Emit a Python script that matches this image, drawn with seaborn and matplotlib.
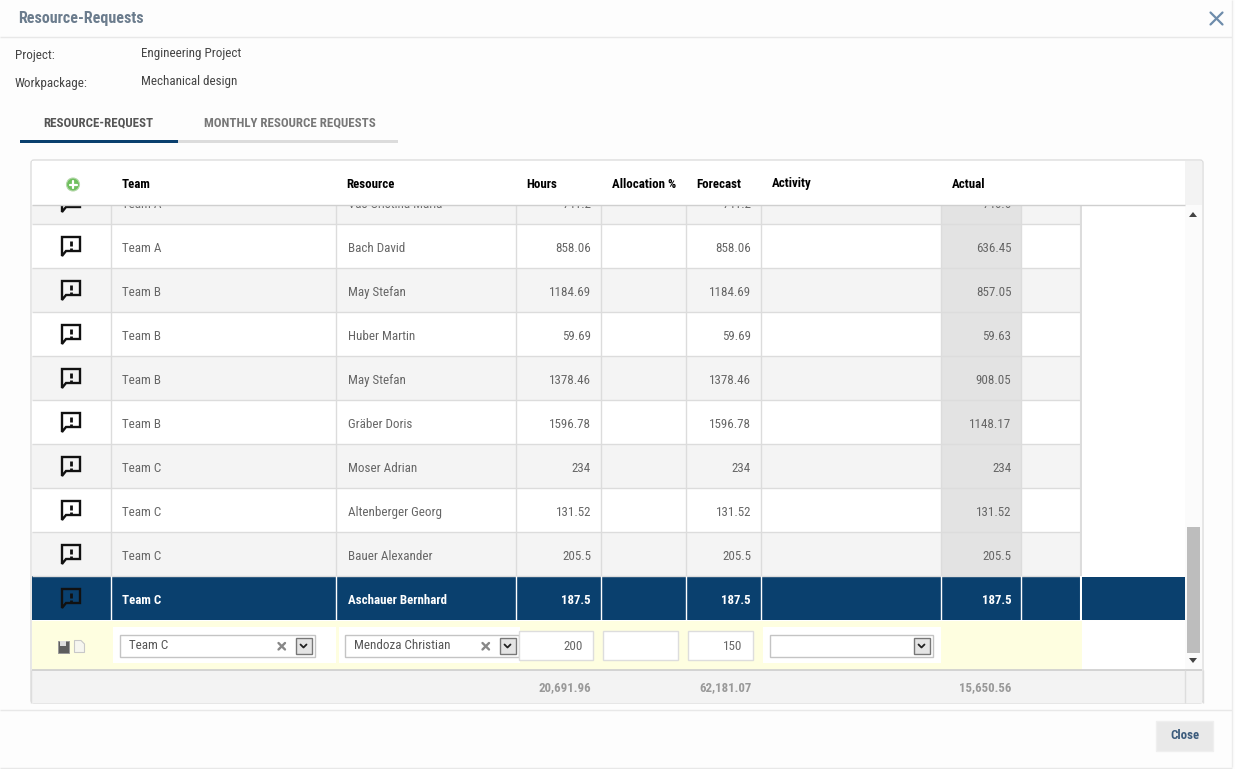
import numpy as np
import pandas as pd
import matplotlib
matplotlib.use('Agg')
import matplotlib.pyplot as plt
from matplotlib import font_manager
from matplotlib.colors import ListedColormap
from matplotlib.patches import Rectangle, FancyBboxPatch, Polygon, Circle
import seaborn as sns

teams = ['Team A', 'Team A', 'Team B', 'Team B', 'Team B', 'Team B', 'Team C', 'Team C', 'Team C', 'Team C']
resources = ['Vas Cristina Maria', 'Bach David', 'May Stefan', 'Huber Martin', 'May Stefan',
             'Gräber Doris', 'Moser Adrian', 'Altenberger Georg', 'Bauer Alexander', 'Aschauer Bernhard']
hours = ['741.2', '858.06', '1184.69', '59.69', '1378.46', '1596.78', '234', '131.52', '205.5', '187.5']
forecast = ['741.2', '858.06', '1184.69', '59.69', '1378.46', '1596.78', '234', '131.52', '205.5', '187.5']
actual = ['746.6', '636.45', '857.05', '59.63', '908.05', '1148.17', '234', '131.52', '205.5', '187.5']
columns = ['Team', 'Resource', 'Hours', 'Allocation %', 'Forecast', 'Activity', 'Actual']
totals = ['20,691.96', '62,181.07', '15,650.56']

W, H = 1235, 769
col_widths = [80, 225, 180, 85, 85, 75, 180, 80, 60]
row_h = 44
NAVY = '#0a406e'

# the page uses a condensed face, plain Roboto at a smaller size if it is missing
have = {f.name for f in font_manager.fontManager.ttflist}
if 'Roboto Condensed' in have:
    FONT = ['Roboto Condensed', 'DejaVu Sans']
    BODY, BOLD, TITLE, TAB = 13.0, 12.9, 16.0, 12.85
else:
    FONT = ['Roboto', 'DejaVu Sans']
    BODY, BOLD, TITLE, TAB = 11.8, 11.6, 14.3, 11.3


def fs(px):
    return px * 72 / 100


sns.set_theme(style='white')
plt.rcParams['font.family'] = FONT

fig = plt.figure(figsize=(W / 100, H / 100), dpi=100, facecolor='#fdfdfd')


def px_axes(x0, y0, x1, y1, z):
    a = fig.add_axes([x0 / W, 1 - y1 / H, (x1 - x0) / W, (y1 - y0) / H], zorder=z)
    return a


def overlay(z):
    a = px_axes(0, 0, W, H, z)
    a.set_xlim(0, W)
    a.set_ylim(H, 0)
    a.axis('off')
    a.patch.set_alpha(0)
    return a


# row striping, one heatmap column per pixel so the widths can differ
n_rows = len(teams)
cells = np.zeros((n_rows, sum(col_widths)))
for i in range(n_rows):
    cells[i, :] = 1 if i % 2 == 0 else 0
edges = np.cumsum([0] + col_widths)
cells[:, edges[7]:edges[8]] = 2
cells[n_rows - 1, :] = 3
df = pd.DataFrame(cells)

tab = px_axes(31.5, 180, 1081.5, 620, 2)
sns.heatmap(df, ax=tab, cmap=ListedColormap(['#ffffff', '#f4f4f4', '#e3e3e3', NAVY]), vmin=0, vmax=3,
            cbar=False, xticklabels=False, yticklabels=False)
tab.hlines(range(1, n_rows), 0, edges[-1], color='#dcdcdc', lw=1)
for e in edges[1:-1]:
    tab.vlines(e - 0.5, 0, n_rows - 1, color='#dcdcdc', lw=1)
    tab.vlines(e - 0.5, n_rows - 1, n_rows, color='white', lw=1)
tab.vlines(edges[-1] - 1, 0, n_rows - 1, color='#dcdcdc', lw=1.5)
tab.vlines(edges[-1] - 1, n_rows - 1, n_rows, color='white', lw=1.5)

for i in range(n_rows):
    sel = i == n_rows - 1
    c = 'white' if sel else '#666666'
    w = 'bold' if sel else 'normal'
    y = i + 0.5 + 0.06
    kw = dict(color=c, weight=w, fontsize=fs(BOLD if sel else BODY), va='center')
    tab.text(edges[1] + 10.5, y, teams[i], ha='left', **kw)
    tab.text(edges[2] + 11, y, resources[i], ha='left', **kw)
    tab.text(edges[4] - 10.5, y, hours[i], ha='right', **kw)
    tab.text(edges[6] - 10.5, y, forecast[i], ha='right', **kw)
    tab.text(edges[8] - 10, y, actual[i], ha='right', **kw)

# page overlays in pixel coordinates
ax = overlay(1)
mid = overlay(2.5)
top = overlay(3)

ax.hlines([36.5, 709.5, 767.5], 0, 1232, color='#e8e8e8', lw=1)
ax.vlines(1232, 0, 767, color='#ececec', lw=1)

ax.text(18, 18, 'Resource-Requests', color='#6b7c8d', weight='bold', fontsize=fs(TITLE), va='center')
ax.plot([1210.5, 1222.5], [12.5, 24.5], color='#6e8cab', lw=1.6)
ax.plot([1210.5, 1222.5], [24.5, 12.5], color='#6e8cab', lw=1.6)
ax.text(15, 56, 'Project:', color='#444444', fontsize=fs(BODY), va='center')
ax.text(15, 84, 'Workpackage:', color='#444444', fontsize=fs(BODY), va='center')
ax.text(141, 54, 'Engineering Project', color='#444444', fontsize=fs(BODY), va='center')
ax.text(141, 82, 'Mechanical design', color='#444444', fontsize=fs(BODY), va='center')
ax.text(43.5, 122.5, 'RESOURCE-REQUEST', color='#555555', weight='bold', fontsize=fs(TAB), va='center')
ax.text(204, 122.5, 'MONTHLY RESOURCE REQUESTS', color='#777777', weight='bold', fontsize=fs(TAB), va='center')
ax.add_patch(Rectangle((178, 140), 220, 3, fc='#dcdcdc', ec='none'))
ax.add_patch(Rectangle((20, 140), 158, 3, fc=NAVY, ec='none'))

# table card
ax.add_patch(FancyBboxPatch((31, 160), 1172, 543, boxstyle='round,pad=0,rounding_size=3', fc='white', ec='#dddddd', lw=1))
ax.add_patch(Rectangle((1185, 205), 17, 465, fc='#fbfbfb', ec='none'))

# note icons in the first column, the header hides the top of the first one
for i in range(n_rows):
    yc = 202.5 + i * row_h
    icon = [(62, yc - 9.5), (80, yc - 9.5), (80, yc + 4.5), (66, yc + 4.5), (62, yc + 9.5)]
    mid.add_patch(Polygon(icon, closed=True, fc='none', ec='#111111', lw=1.7))
    mid.plot([71, 71], [yc - 6, yc - 0.5], color='#111111', lw=2, solid_capstyle='butt')
    mid.plot([71, 71], [yc + 1, yc + 3], color='#111111', lw=2, solid_capstyle='butt')

# header on top of the clipped first row
top.add_patch(Rectangle((32, 161), 1153, 43.5, fc='white', ec='none'))
top.add_patch(Rectangle((1185, 161), 17, 44, fc='#f3f3f3', ec='none'))
top.hlines(204.5, 32, 1185, color='#cfcfcf', lw=1)
for name, x in zip(columns, [121.5, 346.5, 526.5, 611.5, 696.5, 771.5, 951.5]):
    top.text(x, 184, name, color='black', weight='bold', fontsize=fs(BOLD), va='center')
top.add_patch(Circle((73, 184.5), 6.5, fc='#6fbf5e', ec='#b5d8ab', lw=0.8))
top.plot([69.5, 76.5], [184.5, 184.5], color='white', lw=1.6)
top.plot([73, 73], [181, 188], color='white', lw=1.6)

# edit row
top.add_patch(Rectangle((32, 621), 1050, 48.5, fc='#fefee0', ec='none'))
for x0, x1 in [(113, 336), (339, 520), (763, 941)]:
    top.add_patch(Rectangle((x0, 627), x1 - x0, 36, fc='white', ec='none'))
for x0, x1, txt, xb in [(120, 315, 'Team C', 296), (345, 519, 'Mendoza Christian', 500), (770, 933, '', 914)]:
    top.add_patch(Rectangle((x0 - .5, 634.5), x1 - x0, 22.5, fc='white', ec='#c4c4c4', lw=1))
    top.add_patch(Rectangle((xb - .5, 637.5), 16, 16.5, fc='#e4e4e4', ec='#777777', lw=1))
    top.plot([xb + 4.5, xb + 7.5, xb + 10.5], [644.5, 647.5, 644.5], color='#222222', lw=1.3)
    if txt:
        top.text(x0 + 9, 645.5, txt, color='#555555', fontsize=fs(BODY), va='center')
        top.plot([xb - 17.5, xb - 11], [643, 649.5], color='#888888', lw=1.7)
        top.plot([xb - 17.5, xb - 11], [649.5, 643], color='#888888', lw=1.7)
for x0, x1, txt in [(519, 593, '200'), (603, 678, ''), (688, 753, '150')]:
    top.add_patch(Rectangle((x0 - .5, 630.5), x1 - x0, 29.5, fc='white', ec='#dddddd', lw=1))
    if txt:
        top.text(x1 - 10.5, 646.5, txt, color='#666666', fontsize=fs(BODY), va='center', ha='right')
top.add_patch(Rectangle((57.5, 640.5), 11, 12, fc='#5d5d5d', ec='#999999', lw=0.7))
top.add_patch(Rectangle((60, 641), 6, 5, fc='#dddddd', ec='none'))
top.add_patch(Polygon([(74.5, 640.5), (81, 640.5), (84.5, 644), (84.5, 652.5), (74.5, 652.5)], fc='#f6f6f0', ec='#c8c8c8', lw=0.8))

# footer
top.add_patch(Rectangle((32, 670), 1170, 33, fc='#f3f3f3', ec='none'))
top.hlines(670, 32, 1202, color='#cdcdcd', lw=1.2)
top.vlines([1185, 1202.5], 670, 703, color='#dddddd', lw=1)
top.vlines(31, 670, 703, color='#dddddd', lw=1)
for t, x in zip(totals, [591.5, 751.5, 1011.5]):
    top.text(x, 687.5, t, color='#999999', weight='bold', fontsize=fs(BOLD), va='center', ha='right')

# selected row runs on to the scrollbar
ax.add_patch(Rectangle((1082, 577), 103, 43, fc=NAVY, ec='none'))

# scrollbar
ax.add_patch(Rectangle((1187, 527), 13, 126, fc='#bdbdbd', ec='none'))
ax.add_patch(Polygon([(1189, 217), (1197, 217), (1193, 212)], fc='#444444', ec='none'))
ax.add_patch(Polygon([(1189, 658), (1197, 658), (1193, 663)], fc='#444444', ec='none'))

# close button
top.add_patch(Rectangle((1156, 721), 57, 30, fc='#e9e9e9', ec='#efefef', lw=1))
top.text(1185, 735.5, 'Close', color='#3b5b7c', weight='bold', fontsize=fs(BOLD), va='center', ha='center')

fig.savefig('out.png', dpi=100, facecolor=fig.get_facecolor())
